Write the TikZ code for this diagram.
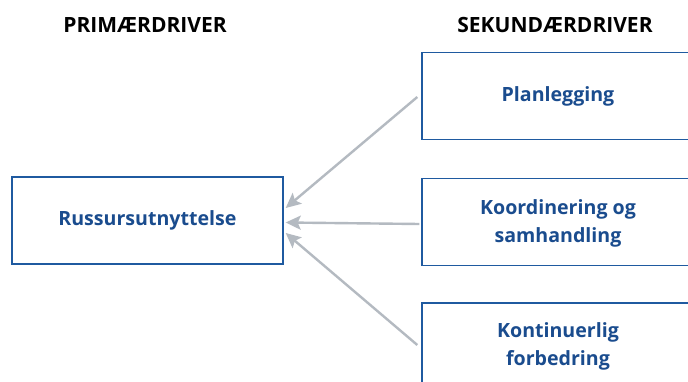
\documentclass[tikz,border=0pt]{standalone}
\usepackage{fontspec}
\setmainfont{Open Sans}
\usetikzlibrary{arrows.meta}
\definecolor{driverblue}{HTML}{1F5AA0}
\definecolor{drivertext}{HTML}{1A4C8E}
\definecolor{arrowgrey}{HTML}{B4BAC1}
\tikzset{
  driverbox/.style={draw=driverblue, line width=1.4pt, fill=white,
    minimum width=271pt, minimum height=87pt, inner sep=0pt,
    align=center, text=drivertext, font=\fontsize{19.6}{28}\selectfont\bfseries},
  header/.style={font=\fontsize{21}{24}\selectfont\bfseries, text=black},
  feed/.style={draw=arrowgrey, line width=2.4pt,
    -{Stealth[length=15pt,width=14pt,inset=3pt]}}
}
\begin{document}
\begin{tikzpicture}[x=1pt,y=-1pt]
  \clip (0,0) rectangle (688,382);
  \fill[white] (0,0) rectangle (688,382);
  % column headings
  \node[header] (hp) at (145,25) {PRIMÆRDRIVER};
  \node[header] (hs) at (555,25) {SEKUNDÆRDRIVER};
  % primary driver
  \node[driverbox] (prim) at (147.5,220.5) {Russursutnyttelse};
  % secondary drivers
  \node[driverbox, minimum width=272pt] (plan) at (558,96) {Planlegging};
  \node[driverbox, minimum width=272pt, text depth=1.5pt] (koord) at (558,222) {Koordinering og\\samhandling};
  \node[driverbox, minimum width=272pt, text depth=4pt] (kont) at (558,346.5) {Kontinuerlig\\forbedring};
  % influence arrows
  \draw[feed] ([xshift=-4pt,yshift=-1pt]plan.west) -- ([xshift=2pt,yshift=12.5pt]prim.east);
  \draw[feed] ([xshift=-2pt,yshift=-2pt]koord.west) -- ([xshift=2pt,yshift=-2pt]prim.east);
  \draw[feed] ([xshift=-4pt,yshift=1.5pt]kont.west) -- ([xshift=2pt,yshift=-12.5pt]prim.east);
\end{tikzpicture}
\end{document}
